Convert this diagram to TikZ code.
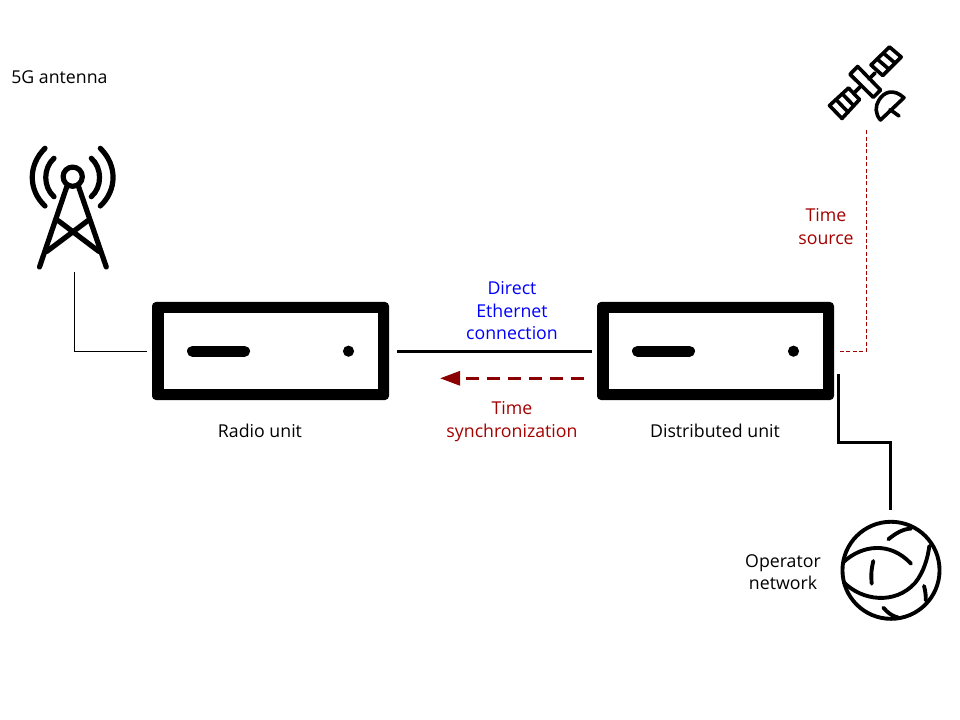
\documentclass[tikz,border=0pt]{standalone}
\usepackage{fontspec}
\setmainfont{Open Sans}
\usetikzlibrary{arrows.meta,calc}
\definecolor{syncred}{HTML}{8B0000}
\definecolor{labelred}{HTML}{A30000}
\definecolor{linkblue}{HTML}{0000FF}
\tikzset{
  x=0.75pt,y=-0.75pt,
  unitbox/.style={fill=black,rounded corners=3pt,minimum width=177.75pt,minimum height=73.5pt,inner sep=0pt,outer sep=0pt},
  lbl/.style={font=\fontsize{13.3pt}{16.9pt}\selectfont,align=center,inner sep=0pt,text=black},
  redlbl/.style={lbl,text=labelred},
  bluelbl/.style={lbl,text=linkblue},
  thin line/.style={line width=0.75pt,draw=black},
  thick line/.style={line width=2.25pt,draw=black},
  icon/.style={line width=3.9pt,line cap=round,line join=round},
  iconthin/.style={line width=2.5pt,line cap=round,line join=round},
}
\newcommand{\unitinner}[1]{%
  \fill[white] ($(#1.center)+(-107,-37.7)$) rectangle ($(#1.center)+(107.3,37.9)$);
  \draw[line width=8.25pt,line cap=round] ($(#1.center)+(-78,0.2)$) -- ($(#1.center)+(-26,0.2)$);
  \fill ($(#1.center)+(78,0.2)$) circle (4.2pt);
}
\begin{document}
\begin{tikzpicture}
\useasboundingbox (0,0) rectangle (960,720);
% units
\node[unitbox] (ru) at (270.5,351) {};
\node[unitbox] (du) at (715.5,351) {};
\unitinner{ru}
\unitinner{du}
% text
\node[lbl,anchor=west] (antlabel) at (11,77.5) {5G antenna};
\node[lbl] (rulabel) at (260,431) {Radio unit};
\node[lbl] (dulabel) at (715,431) {Distributed unit};
\node[bluelbl] (eth) at (512,310.6) {Direct\\Ethernet\\connection};
\node[redlbl] (sync) at (512,421.8) {Time\\synchronization};
\node[redlbl] (src) at (826,226.7) {Time\\source};
\node[lbl] (opnet) at (783,572.3) {Operator\\network};
% antenna
\begin{scope}[icon]
  \coordinate (ant) at (74.5,272);
  \draw (72.7,176.7) circle (7.2pt);
  \draw (66.7,187) -- (39.5,267);
  \draw (78.7,187) -- (106.3,267);
  \draw (46.7,251.5) -- (88,220.5);
  \draw (99,251.5) -- (58,220.5);
  \draw (54,158.3) .. controls (43,168) and (43,187) .. (54,196.7);
  \draw (91.3,158.3) .. controls (102.3,168) and (102.3,187) .. (91.3,196.7);
  \draw (45,148.3) .. controls (28,165) and (28,190) .. (45,206);
  \draw (100.3,148.3) .. controls (117.3,165) and (117.3,190) .. (100.3,206);
\end{scope}
% satellite
\begin{scope}[iconthin,line width=2.7pt]
  \coordinate (sat) at (866.5,128);
  % body
  \draw (857.7,66.5) -- (850,74.3) -- (873.3,97.3) -- (880.5,90) -- cycle;
  % upper panel
  \draw (889.5,47) -- (901.2,57) -- (882.7,75.5) -- (871,65) -- cycle;
  \draw (883.3,53) -- (895,63);
  \draw (877.2,59) -- (888.9,69.2);
  % lower panel
  \draw (848.5,88) -- (859.5,99.5) -- (842,118.5) -- (829.5,105.5) -- cycle;
  \draw (842.2,93.8) -- (853.8,105.7);
  \draw (836,99.6) -- (848,112);
  % arms
  \draw (869,79) -- (875,73);
  \draw (860,87) -- (855,92);
  % dish
  \draw (904,97.7) .. controls (893,88) and (884,92) .. (879,100) .. controls (875,106) and (875,114) .. (880.5,120) -- cycle;
  \draw (890,109.5) -- (899,116);
\end{scope}
% globe
\coordinate (globe) at (890,510);
\begin{scope}[iconthin,line width=2.9pt,yshift=-0.75pt]
  \draw (891,569.3) circle (36.4pt);
  \draw (843.5,561) .. controls (862,544) and (890,540) .. (911,562.7);
  \draw (843.5,581) .. controls (862,600) and (895,604) .. (915,582) .. controls (924,571) and (928,556) .. (929.3,545);
  \draw (873.3,560) .. controls (871,570) and (871,575) .. (871.7,582.7);
  \draw (888.3,538.3) .. controls (896,532) and (903,528) .. (911.2,527.5);
  \draw (883.3,606.7) .. controls (888,612) and (892,615) .. (898,616.5);
  \draw (924,585) .. controls (925.5,590) and (926,596) .. (925.7,599.5);
\end{scope}
% connectors
\coordinate (ru-l) at (147,351);
\coordinate (ru-r) at (397,351.3);
\coordinate (du-l) at (591.7,351.3);
\coordinate (du-r) at (840,351);
\coordinate (du-lr) at (584,378.3);
\coordinate (ru-lr) at (440,378.3);
\coordinate (du-br) at (838,374);
\draw[thin line] (ant) |- (ru-l);
\draw[line width=2.25pt] (ru-r) -- (du-l);
\draw[line width=2.25pt,draw=syncred,dash pattern=on 9.4pt off 6.35pt,-{Triangle[length=15pt,width=10.5pt,fill=syncred]}] (du-lr) -- (ru-lr);
\draw[line width=0.75pt,draw=labelred,dash pattern=on 3pt off 1.8pt] (du-r) -| (sat);
\draw[thick line] (du-br) |- (890,442) -- (globe);
\end{tikzpicture}
\end{document}
